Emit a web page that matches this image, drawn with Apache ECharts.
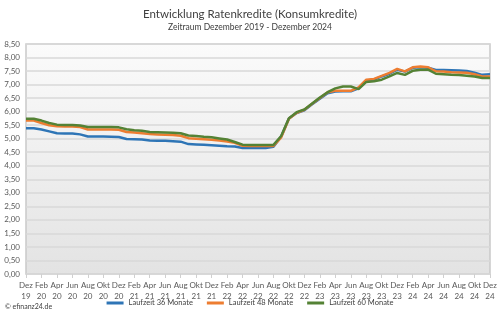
<!DOCTYPE html>
<html>
<head>
<meta charset="utf-8">
<script src="https://cdn.jsdelivr.net/npm/echarts@6/dist/echarts.min.js"></script>
<style>
  html, body { margin: 0; padding: 0; background: #ffffff; }
  #chart { width: 500px; height: 325px; }
</style>
</head>
<body>
<div id="chart"></div>
<script>
// Monthly periods, December 2019 through December 2024
const months = [
  'Dez 19','Jan 20','Feb 20','Mär 20','Apr 20','Mai 20','Jun 20','Jul 20','Aug 20','Sep 20','Okt 20','Nov 20',
  'Dez 20','Jan 21','Feb 21','Mär 21','Apr 21','Mai 21','Jun 21','Jul 21','Aug 21','Sep 21','Okt 21','Nov 21',
  'Dez 21','Jan 22','Feb 22','Mär 22','Apr 22','Mai 22','Jun 22','Jul 22','Aug 22','Sep 22','Okt 22','Nov 22',
  'Dez 22','Jan 23','Feb 23','Mär 23','Apr 23','Mai 23','Jun 23','Jul 23','Aug 23','Sep 23','Okt 23','Nov 23',
  'Dez 23','Jan 24','Feb 24','Mär 24','Apr 24','Mai 24','Jun 24','Jul 24','Aug 24','Sep 24','Okt 24','Nov 24',
  'Dez 24'
];

// Effective interest rates (%) by loan term
const rate36 = [
  5.39, 5.39, 5.34, 5.27, 5.20, 5.19, 5.19, 5.16, 5.08, 5.08, 5.08, 5.07,
  5.06, 4.99, 4.98, 4.97, 4.93, 4.92, 4.92, 4.91, 4.89, 4.80, 4.79, 4.78,
  4.76, 4.74, 4.72, 4.71, 4.66, 4.66, 4.66, 4.66, 4.70, 5.08, 5.75, 5.95,
  6.05, 6.27, 6.48, 6.68, 6.74, 6.75, 6.75, 6.86, 7.15, 7.18, 7.30, 7.40,
  7.55, 7.48, 7.62, 7.64, 7.62, 7.54, 7.54, 7.53, 7.52, 7.50, 7.44, 7.36,
  7.38
];
const rate48 = [
  5.67, 5.67, 5.58, 5.50, 5.46, 5.45, 5.45, 5.43, 5.34, 5.34, 5.34, 5.34,
  5.33, 5.25, 5.23, 5.20, 5.17, 5.16, 5.15, 5.14, 5.11, 5.02, 5.00, 4.98,
  4.96, 4.93, 4.90, 4.85, 4.74, 4.73, 4.73, 4.73, 4.73, 5.05, 5.74, 5.96,
  6.07, 6.29, 6.50, 6.72, 6.77, 6.77, 6.77, 6.90, 7.18, 7.21, 7.32, 7.43,
  7.58, 7.49, 7.64, 7.67, 7.64, 7.49, 7.48, 7.46, 7.45, 7.44, 7.38, 7.30,
  7.30
];
const rate60 = [
  5.74, 5.74, 5.67, 5.58, 5.52, 5.51, 5.51, 5.49, 5.43, 5.43, 5.43, 5.43,
  5.42, 5.35, 5.31, 5.29, 5.25, 5.24, 5.23, 5.22, 5.20, 5.12, 5.10, 5.07,
  5.05, 5.01, 4.97, 4.88, 4.78, 4.77, 4.77, 4.77, 4.77, 5.10, 5.76, 5.98,
  6.08, 6.30, 6.52, 6.72, 6.86, 6.93, 6.93, 6.83, 7.10, 7.12, 7.18, 7.30,
  7.43, 7.36, 7.51, 7.55, 7.55, 7.40, 7.38, 7.36, 7.35, 7.33, 7.30, 7.24,
  7.24
];

const seriesNames = ['Laufzeit 36 Monate', 'Laufzeit 48 Monate', 'Laufzeit 60 Monate'];
const seriesColors = ['#2E75B6', '#ED7D31', '#548235'];
const seriesData = [rate36, rate48, rate60];

const font = 'Lato, "Open Sans", sans-serif';
const chart = echarts.init(document.getElementById('chart'), null, { renderer: 'canvas' });

chart.setOption({
  animation: false,
  backgroundColor: '#ffffff',
  textStyle: { fontFamily: font },
  title: [
    {
      text: 'Entwicklung Ratenkredite (Konsumkredite)',
      left: 'center', top: 3,
      textStyle: { fontFamily: font, fontSize: 11.5, fontWeight: 'normal', color: '#404040' }
    },
    {
      text: 'Zeitraum Dezember 2019 - Dezember 2024',
      left: 'center', top: 18,
      textStyle: { fontFamily: font, fontSize: 8.5, fontWeight: 'normal', color: '#404040' }
    },
    {
      text: '© efinanz24.de',
      left: 0, top: 298,
      textStyle: { fontFamily: font, fontSize: 7, fontWeight: 'normal', color: '#404040' }
    }
  ],
  legend: {
    data: seriesNames,
    top: 294,
    left: 'center',
    itemWidth: 17,
    itemHeight: 3,
    itemGap: 14,
    icon: 'rect',
    textStyle: { fontFamily: font, fontSize: 7.5, color: '#404040', padding: [0, 0, 0, 0] }
  },
  grid: {
    left: 26, right: 10, top: 44, bottom: 51,
    show: true,
    borderColor: '#c9c9c9',
    borderWidth: 1.5,
    backgroundColor: {
      type: 'linear', x: 0, y: 0, x2: 0, y2: 1,
      colorStops: [
        { offset: 0, color: '#fbfbfb' },
        { offset: 1, color: '#e3e3e3' }
      ]
    }
  },
  xAxis: {
    type: 'category',
    data: months,
    boundaryGap: false,
    axisLine: { show: false },
    axisTick: {
      show: true, interval: 1, length: 4, inside: false,
      lineStyle: { color: '#d0d0d0', width: 1 }
    },
    axisLabel: {
      interval: 1,
      fontSize: 8,
      color: '#595959',
      lineHeight: 11,
      margin: 6,
      formatter: v => v.replace(' ', '\n')
    },
    splitLine: { show: false }
  },
  yAxis: {
    type: 'value',
    min: 0, max: 8.5, interval: 0.5,
    axisLine: { show: false },
    axisTick: { show: false },
    axisLabel: {
      fontSize: 8, color: '#595959', margin: 6,
      formatter: v => v.toFixed(2).replace('.', ',')
    },
    splitLine: { lineStyle: { color: '#d9d9d9', width: 1.5 } }
  },
  series: seriesData.map((d, k) => ({
    name: seriesNames[k],
    type: 'line',
    data: d,
    symbol: 'none',
    color: seriesColors[k],
    lineStyle: { width: 2.5, color: seriesColors[k] }
  }))
});
</script>
</body>
</html>
